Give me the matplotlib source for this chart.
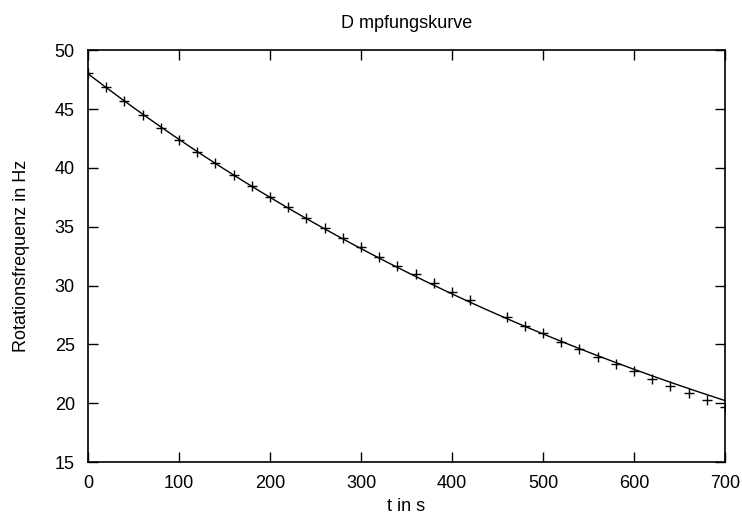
import numpy as np
import matplotlib
matplotlib.use("Agg")
import matplotlib.pyplot as plt

plt.rcParams['font.family'] = ['Liberation Sans', 'DejaVu Sans']

# measured rotation frequency (Hz) over time (s)
t = [0, 20, 40, 60, 80, 100, 120, 140, 160, 180, 200, 220, 240, 260, 280,
     300, 320, 340, 360, 380, 400, 420, 460, 480, 500, 520, 540, 560, 580,
     600, 620, 640, 660, 680, 700]
freq = [48.1, 46.85, 45.65, 44.5, 43.4, 42.4, 41.35, 40.4, 39.4, 38.45,
        37.55, 36.65, 35.75, 34.9, 34.05, 33.25, 32.45, 31.7, 30.95, 30.2,
        29.45, 28.75, 27.3, 26.6, 25.95, 25.2, 24.6, 23.95, 23.35, 22.7,
        22.1, 21.45, 20.85, 20.3, 19.7]

# fitted curve f(t) = f0 * exp(-t / tau), parameters
f0 = 48.0
tau = 810.0
t_fit = np.linspace(0, 700, 300)
f_fit = f0 * np.exp(-t_fit / tau)

fig = plt.figure(figsize=(7.42, 5.18), dpi=100)
ax = fig.add_axes([0.1186, 0.108, 0.8584, 0.795])

ax.plot(t_fit, f_fit, color='black', lw=1.0)
ax.plot(t, freq, ls='none', marker='+', ms=7, mew=1.0, color='black')

ax.set_xlim(0, 700)
ax.set_ylim(15, 50)
ax.set_xticks(range(0, 701, 100))
ax.set_yticks(range(15, 51, 5))
ax.tick_params(direction='in', length=7, width=1, top=True, right=True,
               labelsize=13, pad=9.5)
for s in ax.spines.values():
    s.set_linewidth(1.2)

ax.set_title('D mpfungskurve', fontsize=13, pad=16)
ax.set_xlabel('t in s', fontsize=13, labelpad=4)
ax.set_ylabel('Rotationsfrequenz in Hz', fontsize=13, labelpad=18)

fig.savefig('out.png', dpi=100)
